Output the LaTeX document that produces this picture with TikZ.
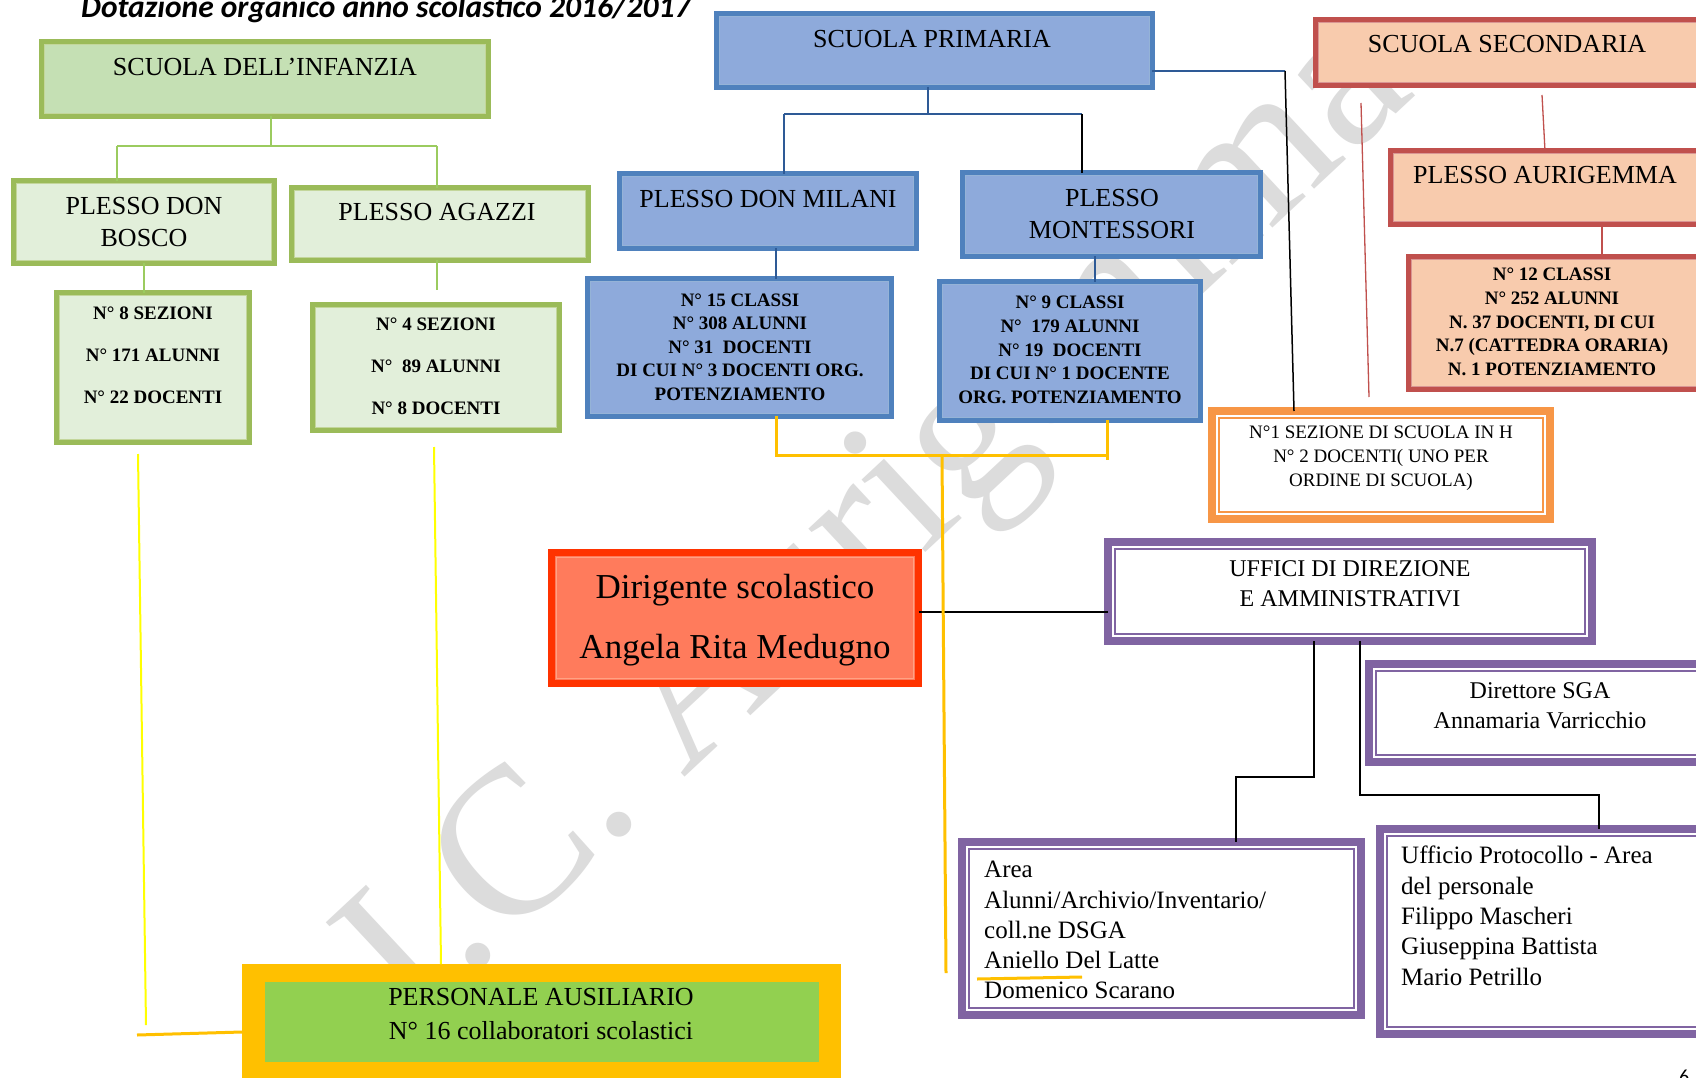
\documentclass[tikz,border=0pt]{standalone}
\usepackage{fontspec}
\setmainfont{Liberation Serif}
\newfontfamily\titlefont{Carlito}
\definecolor{grnB}{HTML}{9BBB59}
\definecolor{grnIn}{HTML}{C3D69B}
\definecolor{infFill}{HTML}{C5E0B4}
\definecolor{plFill}{HTML}{E2EFDA}
\definecolor{bluB}{HTML}{4F81BD}
\definecolor{bluIn}{HTML}{95B3D7}
\definecolor{bluFill}{HTML}{8EAADB}
\definecolor{redB}{HTML}{C0504D}
\definecolor{redIn}{HTML}{D99694}
\definecolor{salFill}{HTML}{F8CBAD}
\definecolor{orgB}{HTML}{F79646}
\definecolor{purB}{HTML}{8064A2}
\definecolor{dirB}{HTML}{FF3300}
\definecolor{dirFill}{HTML}{FF7B5C}
\definecolor{dirIn}{HTML}{FFA284}
\definecolor{goldY}{HTML}{FFC000}
\definecolor{brightY}{HTML}{FFFF00}
\definecolor{persG}{HTML}{92D050}
\definecolor{gConn}{HTML}{9BCB5F}
\definecolor{bConn}{HTML}{2E5A96}
\definecolor{wmGray}{HTML}{DCDCDC}
\tikzset{
  cbox/.style 2 args={draw=#1, fill=#2, line width=6pt, inner sep=0pt, outer sep=0pt},
  wbox/.style={draw=#1, fill=white, line width=8pt, inner sep=0pt, outer sep=0pt},
  hdrtxt/.style={inner sep=0pt, outer sep=0pt, align=center, font=\fontsize{26}{32.5}\selectfont},
  datatxt/.style={inner sep=0pt, align=center, font=\bfseries\fontsize{19}{23.6}\selectfont},
  datawide/.style={inner sep=0pt, align=center, font=\bfseries\fontsize{19}{42}\selectfont},
  smalltxt/.style={inner sep=0pt, align=center, font=\fontsize{19}{24}\selectfont},
  dirtxt/.style={inner sep=0pt, align=center, font=\fontsize{35}{60}\selectfont},
  offtxt/.style={inner sep=0pt, align=center, font=\fontsize{24}{30}\selectfont},
  bodytxt/.style={inner sep=0pt, align=left, font=\fontsize{25}{30.3}\selectfont},
  perstxt/.style={inner sep=0pt, align=center, font=\fontsize{26}{34.5}\selectfont},
  gline/.style={draw=gConn, line width=1.8pt},
  bline/.style={draw=bConn, line width=1.5pt},
  kline/.style={draw=black, line width=1.5pt},
  rline/.style={draw=redB, line width=1.3pt},
  goldline/.style={draw=goldY, line width=3pt},
  yline/.style={draw=brightY, line width=2pt}
}
\begin{document}
\begin{tikzpicture}[x=1pt,y=-1pt]
\useasboundingbox (0,0) rectangle (1696,1078);
\clip (0,0) rectangle (1696,1078);
\fill[white] (0,0) rectangle (1696,1078);

% watermark
\node[inner sep=0pt, text=wmGray, rotate=43, font=\fontsize{210}{210}\selectfont] (watermark) at (884,527) {I.C. Aurigemma};

% title
\node[inner sep=0pt, anchor=base west, font=\titlefont\bfseries\itshape\fontsize{31.5}{34}\selectfont] (title) at (81,18) {Dotazione organico anno scolastico 2016/2017};

% boxes
\node[cbox={grnB}{infFill}, minimum width=446, minimum height=74] (infanzia) at (265,79) {};
\node[cbox={grnB}{plFill}, minimum width=260, minimum height=82] (donbosco) at (144,222) {};
\node[cbox={grnB}{plFill}, minimum width=296, minimum height=72] (agazzi) at (440,224) {};
\node[cbox={grnB}{plFill}, minimum width=192, minimum height=149] (dbData) at (153,367.5) {};
\node[cbox={grnB}{plFill}, minimum width=246, minimum height=125] (agData) at (436,367.5) {};
\node[cbox={bluB}{bluFill}, minimum width=435, minimum height=73] (primaria) at (934.5,50.5) {};
\node[cbox={bluB}{bluFill}, minimum width=296, minimum height=74] (milani) at (768,211) {};
\node[cbox={bluB}{bluFill}, minimum width=297, minimum height=83] (montessori) at (1111.5,214.5) {};
\node[cbox={bluB}{bluFill}, minimum width=303, minimum height=137] (milData) at (739.5,347.5) {};
\node[cbox={bluB}{bluFill}, minimum width=260, minimum height=138] (monData) at (1070,351) {};
\node[cbox={redB}{salFill}, minimum width=401, minimum height=65] (secondaria) at (1516.5,52.5) {};
\node[cbox={redB}{salFill}, minimum width=326, minimum height=73] (aurigemma) at (1554,187.5) {};
\node[cbox={redB}{salFill}, minimum width=308, minimum height=132] (aurData) at (1563,323) {};
\node[wbox=orgB, minimum width=338, minimum height=108] (orange) at (1381,465) {};
\node[draw=dirB, fill=dirFill, line width=7pt, inner sep=0pt, outer sep=0pt, minimum width=367, minimum height=131] (dirigente) at (735,618) {};
\node[wbox=purB, minimum width=484, minimum height=99] (uffici) at (1350,591.5) {};
\node[wbox=purB, minimum width=347, minimum height=98] (direttore) at (1542.5,713) {};
\node[wbox=purB, minimum width=399, minimum height=173] (area) at (1161.5,928.5) {};
\node[wbox=purB, minimum width=336, minimum height=205] (protocollo) at (1548,931.5) {};
\node[fill=goldY, inner sep=0pt, outer sep=0pt, minimum width=599, minimum height=130] (persOuter) at (541.5,1029) {};
\node[fill=persG, inner sep=0pt, outer sep=0pt, minimum width=554, minimum height=80] (personale) at (542,1022) {};

% inner lines
\foreach \nm/\cl in {infanzia/grnIn, donbosco/grnIn, agazzi/grnIn, dbData/grnIn, agData/grnIn,
  primaria/bluIn, milani/bluIn, montessori/bluIn, milData/bluIn, monData/bluIn,
  secondaria/redIn, aurigemma/redIn, aurData/redIn}
  \draw[draw=\cl, line width=1.2pt] ([shift={(2.4,2.4)}]\nm.north west) rectangle ([shift={(-2.4,-2.4)}]\nm.south east);
\foreach \nm/\cl in {orange/orgB, uffici/purB, direttore/purB, area/purB, protocollo/purB}
  \draw[draw=\cl, line width=1.8pt] ([shift={(7,7)}]\nm.north west) rectangle ([shift={(-7,-7)}]\nm.south east);
\draw[draw=dirIn, line width=1.5pt] ([shift={(5,5)}]dirigente.north west) rectangle ([shift={(-5,-5)}]dirigente.south east);

% connectors
\coordinate (jInf) at (271,146);
\coordinate (jInfL) at (117,146);
\coordinate (jInfR) at (437,146);
\draw[gline] (infanzia.south -| jInf) -- (jInf);
\draw[gline] (jInfL) -- (jInfR);
\draw[gline] (jInfL) -- (donbosco.north -| jInfL);
\draw[gline] (jInfR) -- (agazzi.north -| jInfR);
\draw[gline] (donbosco.south) -- (dbData.north -| donbosco.south);
\coordinate (agEnd) at (437,290);
\draw[gline] (agazzi.south -| agEnd) -- (agEnd);

\coordinate (jPri) at (928,114);
\coordinate (jPriL) at (784,114);
\coordinate (jPriR) at (1082,114);
\draw[bline] (primaria.south -| jPri) -- (jPri);
\draw[bline] (jPriL) -- (jPriR);
\draw[bline] (jPriL) -- (milani.north -| jPriL);
\draw[kline] (jPriR) -- (montessori.north -| jPriR);
\coordinate (mlx) at (776,0);
\draw[bline] (milani.south -| mlx) -- (milData.north -| mlx);
\coordinate (mtx) at (1095,0);
\draw[bline] (montessori.south -| mtx) -- (monData.north -| mtx);
\coordinate (pH) at (1285,71);
\coordinate (pHb) at (1294,0);
\draw[bline] (primaria.east |- pH) -- (pH);
\draw[kline] (pH) -- (orange.north -| pHb);

\coordinate (sTop) at (1542,95);
\coordinate (sx) at (1545,0);
\draw[rline] (sTop) -- (aurigemma.north -| sx);
\coordinate (ax) at (1602,0);
\draw[rline] (aurigemma.south -| ax) -- (aurData.north -| ax);
\coordinate (rTop) at (1361,103);
\coordinate (rBot) at (1369,397);
\draw[rline] (rTop) -- (rBot);

\coordinate (yL) at (776,455);
\coordinate (yR) at (1107,455);
\coordinate (yRb) at (1107,460);
\coordinate (yM) at (942,455);
\coordinate (yEnd) at (946,973);
\draw[goldline] (milData.south -| yL) -- (yL) -- (yR);
\draw[goldline] (monData.south -| yR) -- (yRb);

\coordinate (dy) at (0,612);
\draw[kline] (dirigente.east |- dy) -- (uffici.west |- dy);
\draw[goldline] (yM) -- (yEnd);

\coordinate (u1) at (1314,777);
\coordinate (u2) at (1236,777);
\coordinate (u3) at (1360,795);
\coordinate (u4) at (1599,795);
\draw[kline] (uffici.south -| u1) -- (u1) -- (u2) -- (area.north -| u2);
\draw[kline] (uffici.south -| u3) -- (u3) -- (u4) -- (protocollo.north -| u4);

\coordinate (yb1) at (138,454);
\coordinate (yb2) at (146,1025);
\coordinate (yb3) at (137,1035);
\coordinate (yb4) at (0,1032);
\draw[yline] (yb1) -- (yb2);
\draw[goldline] (yb3) -- (persOuter.west |- yb4);
\coordinate (yc1) at (434,447);
\coordinate (yc2) at (441,0);
\draw[yline] (yc1) -- (persOuter.north -| yc2);

% texts
\node[hdrtxt] (infanziaT) at (265,67) {SCUOLA DELL’INFANZIA};
\node[hdrtxt] (donboscoT) at (144,222) {PLESSO DON\\BOSCO};
\node[hdrtxt] (agazziT) at (437,212) {PLESSO AGAZZI};
\node[datawide] (dbDataT) at (153,355) {N° 8 SEZIONI\\N° 171 ALUNNI\\N° 22 DOCENTI};
\node[datawide] (agDataT) at (436,366) {N° 4 SEZIONI\\N°~ 89 ALUNNI\\N° 8 DOCENTI};
\node[hdrtxt] (primariaT) at (932,39) {SCUOLA PRIMARIA};
\node[hdrtxt] (milaniT) at (768,199) {PLESSO DON MILANI};
\node[hdrtxt] (montessoriT) at (1112,214) {PLESSO\\MONTESSORI};
\node[datatxt] (milDataT) at (740,347) {N° 15 CLASSI\\N° 308 ALUNNI\\N° 31~ DOCENTI\\DI CUI N° 3 DOCENTI ORG.\\POTENZIAMENTO};
\node[datatxt] (monDataT) at (1070,350) {N° 9 CLASSI\\N°~ 179 ALUNNI\\N° 19~ DOCENTI\\DI CUI N° 1 DOCENTE\\ORG. POTENZIAMENTO};
\node[hdrtxt] (secondariaT) at (1507,44) {SCUOLA SECONDARIA};
\node[hdrtxt] (aurigemmaT) at (1545,175) {PLESSO AURIGEMMA};
\node[datatxt] (aurDataT) at (1552,322) {N° 12 CLASSI\\N° 252 ALUNNI\\N. 37 DOCENTI, DI CUI\\N.7 (CATTEDRA ORARIA)\\N. 1 POTENZIAMENTO};
\node[smalltxt] (orangeT) at (1381,458) {N°1 SEZIONE DI SCUOLA IN H\\N° 2 DOCENTI( UNO PER\\ORDINE DI SCUOLA)};
\node[dirtxt] (dirigenteT) at (735,620) {Dirigente scolastico\\Angela Rita Medugno};
\node[offtxt] (ufficiT) at (1350,584) {UFFICI DI DIREZIONE\\E AMMINISTRATIVI};
\node[offtxt] (direttoreT) at (1540,706) {Direttore SGA\\Annamaria Varricchio};
\node[bodytxt, anchor=north west] (areaT) at (984,861) {Area\\Alunni/Archivio/Inventario/\\coll.ne DSGA\\Aniello Del Latte\\Domenico Scarano};
\node[bodytxt, anchor=north west] (protocolloT) at (1401,846) {Ufficio Protocollo - Area\\del personale\\Filippo Mascheri\\Giuseppina Battista\\Mario Petrillo};
\node[perstxt] (personaleT) at (541,1014) {PERSONALE AUSILIARIO\\N° 16 collaboratori scolastici};

\coordinate (ul1) at (977,979);
\coordinate (ul2) at (1082,977);
\draw[goldline] (ul1) -- (ul2);

\node[inner sep=0pt, anchor=base west, font=\titlefont\fontsize{20}{24}\selectfont] (pagenum) at (1679,1083) {6};
\end{tikzpicture}
\end{document}
